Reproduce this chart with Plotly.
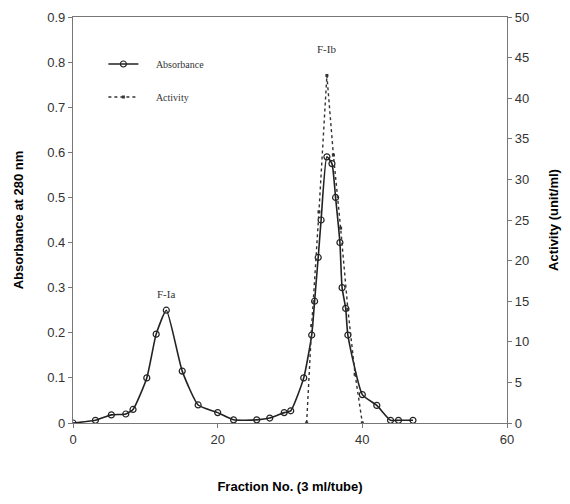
import plotly.graph_objects as go

# Absorbance at 280 nm (solid line, open circles)
abs_fraction = [0, 3.1, 5.3, 7.3, 8.3, 10.2, 11.5, 12.9, 15.1, 17.3, 20.0, 22.2, 25.4,
                27.2, 29.2, 30.1, 31.9, 33.0, 33.4, 33.9, 34.3, 35.1, 35.8, 36.3, 36.9,
                37.2, 37.7, 38.0, 40.0, 42.0, 43.9, 45.0, 47.0]
absorbance = [0, 0.006, 0.018, 0.02, 0.03, 0.1, 0.197, 0.25, 0.115, 0.04, 0.023, 0.007, 0.007,
              0.011, 0.023, 0.027, 0.1, 0.195, 0.27, 0.367, 0.45, 0.59, 0.575, 0.5, 0.40,
              0.30, 0.254, 0.195, 0.063, 0.039, 0.006, 0.006, 0.006]

# Activity (unit/ml) (dotted line, small markers)
act_fraction = [32.3, 33.0, 34.0, 35.1, 36.0, 37.0, 38.0, 39.0, 40.0]
activity = [0, 12, 26, 42.8, 33, 24, 14, 6, 0]

peak_labels = ["F-Ia", "F-Ib"]
peak_x = [12.9, 35.1]
peak_y = [0.285, 0.83]

x_ticks = [0, 20, 40, 60]
y_left_ticks = [0, 0.1, 0.2, 0.3, 0.4, 0.5, 0.6, 0.7, 0.8, 0.9]
y_left_text = ["0", "0.1", "0.2", "0.3", "0.4", "0.5", "0.6", "0.7", "0.8", "0.9"]
y_right_ticks = [0, 5, 10, 15, 20, 25, 30, 35, 40, 45, 50]

pad = "\u00a0" * 5
fig = go.Figure()
fig.add_trace(go.Scatter(
    x=abs_fraction, y=absorbance, name=pad + "Absorbance", mode="lines+markers",
    line=dict(color="#222", width=1.6, shape="spline", smoothing=0.5),
    marker=dict(symbol="circle-open", size=6, color="#222", line=dict(width=1.2)),
    legendgroup="a"))
fig.add_trace(go.Scatter(
    x=act_fraction, y=activity, name=pad + "Activity", mode="lines+markers",
    line=dict(color="#333", width=1.4, dash="dot"),
    marker=dict(symbol="square", size=3, color="#333"),
    yaxis="y2", legendgroup="b"))

for t, xx, yy in zip(peak_labels, peak_x, peak_y):
    fig.add_annotation(x=xx, y=yy, text=t, showarrow=False, xref="x", yref="y",
                       font=dict(family="Liberation Serif", size=11, color="#333"))

axis_font = dict(family="Liberation Sans", size=13, color="#333")
title_font = dict(family="Liberation Sans", size=13, color="#000")

fig.update_layout(
    width=570, height=504,
    margin=dict(l=73, r=63, t=17, b=81),
    plot_bgcolor="white", paper_bgcolor="white",
    showlegend=True,
    legend=dict(x=0.07, y=0.92, xanchor="left", yanchor="top",
                font=dict(family="Liberation Serif", size=10, color="#333"),
                bgcolor="rgba(0,0,0,0)", tracegroupgap=14),
    xaxis=dict(range=[0, 60], tickvals=x_ticks, showgrid=False, zeroline=False,
               showline=True, linecolor="#777", linewidth=1.2, mirror=True,
               ticks="outside", ticklen=4, tickcolor="#777", tickfont=axis_font,
               automargin=False,
               title=dict(text="<b>Fraction No. (3 ml/tube)</b>", font=title_font, standoff=36)),
    yaxis=dict(range=[0, 0.9], tickvals=y_left_ticks, ticktext=y_left_text,
               showgrid=False, zeroline=False, automargin=False,
               showline=True, linecolor="#777", linewidth=1.2,
               ticks="outside", ticklen=4, tickcolor="#777", tickfont=axis_font,
               title=dict(text="<b>Absorbance at 280 nm</b>", font=title_font, standoff=20)),
    yaxis2=dict(range=[0, 50], tickvals=y_right_ticks, overlaying="y", side="right",
                showgrid=False, zeroline=False, showline=True, linecolor="#777",
                linewidth=1.2, ticks="outside", ticklen=4, tickcolor="#777",
                tickfont=axis_font, automargin=False,
                title=dict(text="<b>Activity (unit/ml)</b>", font=title_font, standoff=20)),
)

fig.write_html("out.html")
